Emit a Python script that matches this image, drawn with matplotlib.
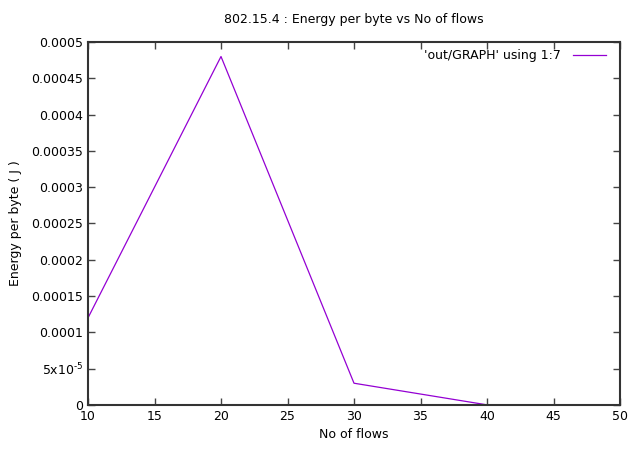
import matplotlib
matplotlib.use("Agg")
import matplotlib.pyplot as plt
from matplotlib.ticker import FuncFormatter

flows = [10, 20, 30, 40, 50]
energy = [0.00012, 0.00048, 0.00003, 0.0000002, 0.0000001]

plt.rcParams['font.family'] = 'DejaVu Sans'
plt.rcParams['font.size'] = 9

fig = plt.figure(figsize=(6.4, 4.49), dpi=100)
ax = fig.add_axes([0.1375, 0.098, 0.83125, 0.8085])

ax.plot(flows, energy, color='#9400d3', linewidth=0.9, label="'out/GRAPH' using 1:7")

ax.set_xlim(10, 50)
ax.set_ylim(0, 0.0005)
ax.set_xticks([10, 15, 20, 25, 30, 35, 40, 45, 50])
yt = [i * 0.00005 for i in range(11)]
ax.set_yticks(yt)

def yfmt(v, pos):
    if abs(v) < 1e-12:
        return '0'
    if abs(v - 0.00005) < 1e-12:
        return r'5x10$^{\text{-}5}$'
    return ('%.5f' % v).rstrip('0')

ax.yaxis.set_major_formatter(FuncFormatter(yfmt))
ax.tick_params(direction='in', top=True, right=True, length=5, width=1, color='#444444')
for s in ax.spines.values():
    s.set_linewidth(1.5)
    s.set_color('#333333')

ax.set_title('802.15.4 : Energy per byte vs No of flows', fontsize=9, pad=14)
ax.set_xlabel('No of flows')
ax.set_ylabel('Energy per byte ( J )', labelpad=7)

ax.legend(loc='upper right', bbox_to_anchor=(0.99, 1.005), frameon=False, markerfirst=False,
          handlelength=2.6, handletextpad=1.0, borderaxespad=0.4, borderpad=0.3, fontsize=9)

fig.savefig('out.png', dpi=100)
